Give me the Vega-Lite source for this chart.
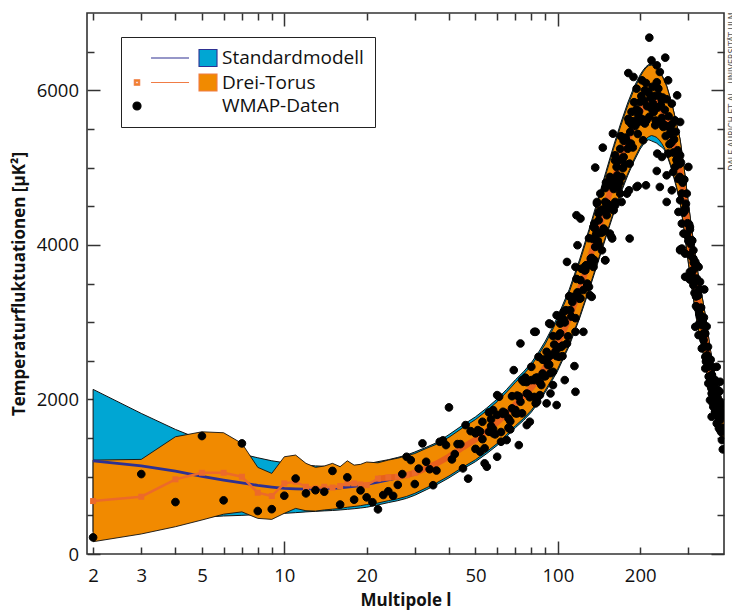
{
"$schema": "https://vega.github.io/schema/vega-lite/v6.json",
"width": 637, "height": 541,
"autosize": {"type": "none"},
"padding": {"left": 87, "top": 13, "right": 8, "bottom": 56},
"title": {"text": "DALE AURICH ET AL., UNIVERSITÄT ULM", "orient": "right", "anchor": "start", "angle": -90, "align": "right", "baseline": "middle", "offset": 0, "fontSize": 8, "font": "DejaVu Sans", "fontWeight": "normal", "color": "#555555"},
"config": {
  "font": "Open Sans",
  "view": {"stroke": "#333333", "strokeWidth": 1.6},
  "axis": {"grid": false, "domain": false, "tickColor": "#333333", "tickWidth": 1.5, "labelColor": "#111111", "titleColor": "#111111", "labelFont": "Open Sans", "titleFont": "Open Sans"}
},
"resolve": {"axis": {"x": "independent", "y": "independent"}},
"datasets": {
"bands": [
{"l":2,"smlo":289,"smhi":2130,"sm":1206,"dtlo":159,"dthi":1215,"dt":685},
{"l":3,"smlo":388,"smhi":1819,"sm":1140,"dtlo":259,"dthi":1224,"dt":741},
{"l":4,"smlo":440,"smhi":1612,"sm":1073,"dtlo":353,"dthi":1517,"dt":966},
{"l":5,"smlo":475,"smhi":1474,"sm":1005,"dtlo":440,"dthi":1581,"dt":1051},
{"l":6,"smlo":492,"smhi":1367,"sm":957,"dtlo":515,"dthi":1569,"dt":1051},
{"l":7,"smlo":500,"smhi":1293,"sm":920,"dtlo":545,"dthi":1431,"dt":1000},
{"l":8,"smlo":510,"smhi":1245,"sm":888,"dtlo":461,"dthi":1121,"dt":793},
{"l":9,"smlo":518,"smhi":1206,"sm":866,"dtlo":448,"dthi":1043,"dt":750},
{"l":10,"smlo":526,"smhi":1181,"sm":849,"dtlo":526,"dthi":1258,"dt":914},
{"l":11,"smlo":535,"smhi":1165,"sm":843,"dtlo":590,"dthi":1280,"dt":935},
{"l":12,"smlo":545,"smhi":1150,"sm":840,"dtlo":560,"dthi":1173,"dt":870},
{"l":13,"smlo":552,"smhi":1140,"sm":842,"dtlo":555,"dthi":1121,"dt":849},
{"l":14,"smlo":558,"smhi":1135,"sm":846,"dtlo":570,"dthi":1138,"dt":870},
{"l":15,"smlo":563,"smhi":1130,"sm":851,"dtlo":580,"dthi":1173,"dt":860},
{"l":16,"smlo":570,"smhi":1130,"sm":857,"dtlo":590,"dthi":1130,"dt":879},
{"l":17,"smlo":578,"smhi":1135,"sm":865,"dtlo":605,"dthi":1206,"dt":914},
{"l":18,"smlo":586,"smhi":1140,"sm":875,"dtlo":615,"dthi":1150,"dt":914},
{"l":19,"smlo":595,"smhi":1150,"sm":885,"dtlo":625,"dthi":1160,"dt":900},
{"l":20,"smlo":605,"smhi":1165,"sm":900,"dtlo":640,"dthi":1190,"dt":892},
{"l":22,"smlo":635,"smhi":1195,"sm":930,"dtlo":660,"dthi":1180,"dt":975},
{"l":24,"smlo":665,"smhi":1220,"sm":960,"dtlo":690,"dthi":1215,"dt":990},
{"l":26,"smlo":690,"smhi":1250,"sm":985,"dtlo":715,"dthi":1240,"dt":1000},
{"l":28,"smlo":720,"smhi":1280,"sm":1010,"dtlo":745,"dthi":1270,"dt":1020},
{"l":30,"smlo":760,"smhi":1320,"sm":1045,"dtlo":785,"dthi":1300,"dt":1050},
{"l":33,"smlo":830,"smhi":1380,"sm":1110,"dtlo":855,"dthi":1365,"dt":1110},
{"l":36,"smlo":895,"smhi":1440,"sm":1170,"dtlo":920,"dthi":1420,"dt":1170},
{"l":40,"smlo":985,"smhi":1545,"sm":1260,"dtlo":1010,"dthi":1510,"dt":1260},
{"l":45,"smlo":1100,"smhi":1670,"sm":1380,"dtlo":1125,"dthi":1635,"dt":1380},
{"l":50,"smlo":1195,"smhi":1775,"sm":1480,"dtlo":1220,"dthi":1740,"dt":1480},
{"l":55,"smlo":1300,"smhi":1890,"sm":1590,"dtlo":1325,"dthi":1855,"dt":1590},
{"l":60,"smlo":1405,"smhi":2005,"sm":1700,"dtlo":1430,"dthi":1970,"dt":1700},
{"l":65,"smlo":1520,"smhi":2130,"sm":1820,"dtlo":1545,"dthi":2095,"dt":1820},
{"l":70,"smlo":1635,"smhi":2255,"sm":1940,"dtlo":1660,"dthi":2220,"dt":1940},
{"l":75,"smlo":1730,"smhi":2360,"sm":2040,"dtlo":1755,"dthi":2325,"dt":2040},
{"l":80,"smlo":1835,"smhi":2475,"sm":2150,"dtlo":1860,"dthi":2440,"dt":2150},
{"l":85,"smlo":1960,"smhi":2610,"sm":2280,"dtlo":1985,"dthi":2575,"dt":2280},
{"l":90,"smlo":2095,"smhi":2755,"sm":2420,"dtlo":2120,"dthi":2720,"dt":2420},
{"l":95,"smlo":2235,"smhi":2915,"sm":2570,"dtlo":2260,"dthi":2880,"dt":2570},
{"l":100,"smlo":2375,"smhi":3075,"sm":2720,"dtlo":2400,"dthi":3040,"dt":2720},
{"l":110,"smlo":2690,"smhi":3420,"sm":3050,"dtlo":2715,"dthi":3385,"dt":3050},
{"l":120,"smlo":3045,"smhi":3805,"sm":3420,"dtlo":3070,"dthi":3770,"dt":3420},
{"l":130,"smlo":3410,"smhi":4200,"sm":3800,"dtlo":3435,"dthi":4165,"dt":3800},
{"l":140,"smlo":3765,"smhi":4585,"sm":4170,"dtlo":3790,"dthi":4550,"dt":4170},
{"l":150,"smlo":4100,"smhi":4950,"sm":4520,"dtlo":4125,"dthi":4915,"dt":4520},
{"l":160,"smlo":4405,"smhi":5285,"sm":4840,"dtlo":4430,"dthi":5250,"dt":4840},
{"l":170,"smlo":4670,"smhi":5580,"sm":5120,"dtlo":4695,"dthi":5545,"dt":5120},
{"l":180,"smlo":4895,"smhi":5835,"sm":5360,"dtlo":4920,"dthi":5800,"dt":5360},
{"l":190,"smlo":5085,"smhi":6045,"sm":5560,"dtlo":5110,"dthi":6010,"dt":5560},
{"l":200,"smlo":5240,"smhi":6200,"sm":5720,"dtlo":5265,"dthi":6175,"dt":5720},
{"l":205,"smlo":5295,"smhi":6260,"sm":5780,"dtlo":5320,"dthi":6240,"dt":5780},
{"l":210,"smlo":5345,"smhi":6305,"sm":5830,"dtlo":5370,"dthi":6290,"dt":5830},
{"l":215,"smlo":5360,"smhi":6335,"sm":5860,"dtlo":5400,"dthi":6320,"dt":5860},
{"l":220,"smlo":5345,"smhi":6335,"sm":5870,"dtlo":5415,"dthi":6325,"dt":5870},
{"l":225,"smlo":5330,"smhi":6325,"sm":5860,"dtlo":5405,"dthi":6315,"dt":5860},
{"l":230,"smlo":5315,"smhi":6300,"sm":5840,"dtlo":5390,"dthi":6290,"dt":5840},
{"l":235,"smlo":5285,"smhi":6255,"sm":5800,"dtlo":5355,"dthi":6245,"dt":5800},
{"l":240,"smlo":5265,"smhi":6200,"sm":5750,"dtlo":5310,"dthi":6190,"dt":5750},
{"l":245,"smlo":5230,"smhi":6135,"sm":5690,"dtlo":5255,"dthi":6125,"dt":5690},
{"l":250,"smlo":5170,"smhi":6060,"sm":5620,"dtlo":5190,"dthi":6050,"dt":5620},
{"l":260,"smlo":4990,"smhi":5855,"sm":5430,"dtlo":5010,"dthi":5850,"dt":5430},
{"l":270,"smlo":4770,"smhi":5615,"sm":5200,"dtlo":4790,"dthi":5610,"dt":5200},
{"l":280,"smlo":4540,"smhi":5365,"sm":4960,"dtlo":4560,"dthi":5360,"dt":4960},
{"l":290,"smlo":4170,"smhi":4975,"sm":4580,"dtlo":4190,"dthi":4970,"dt":4580},
{"l":300,"smlo":3760,"smhi":4545,"sm":4160,"dtlo":3780,"dthi":4540,"dt":4160},
{"l":310,"smlo":3405,"smhi":4160,"sm":3790,"dtlo":3425,"dthi":4155,"dt":3790},
{"l":320,"smlo":3070,"smhi":3795,"sm":3440,"dtlo":3090,"dthi":3790,"dt":3440},
{"l":330,"smlo":2805,"smhi":3500,"sm":3160,"dtlo":2825,"dthi":3495,"dt":3160},
{"l":340,"smlo":2590,"smhi":3255,"sm":2930,"dtlo":2610,"dthi":3250,"dt":2930},
{"l":350,"smlo":2355,"smhi":2990,"sm":2680,"dtlo":2375,"dthi":2985,"dt":2680},
{"l":360,"smlo":2070,"smhi":2675,"sm":2380,"dtlo":2090,"dthi":2670,"dt":2380},
{"l":370,"smlo":1855,"smhi":2430,"sm":2150,"dtlo":1875,"dthi":2425,"dt":2150},
{"l":380,"smlo":1700,"smhi":2245,"sm":1980,"dtlo":1720,"dthi":2240,"dt":1980},
{"l":390,"smlo":1570,"smhi":2095,"sm":1840,"dtlo":1590,"dthi":2090,"dt":1840},
{"l":400,"smlo":1480,"smhi":1985,"sm":1740,"dtlo":1500,"dthi":1980,"dt":1740},
{"l":405,"smlo":1465,"smhi":1960,"sm":1720,"dtlo":1485,"dthi":1955,"dt":1720}
],
"wmap": [
{"l":2,"v":215},{"l":3,"v":1034},{"l":4,"v":672},{"l":5,"v":1526},{"l":6,"v":694},{"l":7,"v":1431},{"l":8,"v":556},{"l":9,"v":580},{"l":10,"v":754},{"l":11,"v":977},{"l":12,"v":785},{"l":13,"v":825},{"l":14,"v":806},{"l":15,"v":1075},{"l":16,"v":640},{"l":17,"v":992},{"l":18,"v":703},{"l":19,"v":823},{"l":20,"v":733},{"l":21,"v":670},{"l":22,"v":578},{"l":23,"v":763},{"l":24,"v":812},{"l":25,"v":752},{"l":26,"v":894},{"l":27,"v":1034},{"l":28,"v":1258},{"l":29,"v":1215},{"l":30,"v":905},{"l":31,"v":1105},{"l":32,"v":1431},{"l":33,"v":1193},{"l":34,"v":1097},{"l":35,"v":890},{"l":36,"v":1080},{"l":37,"v":1452},{"l":38,"v":1470},{"l":39,"v":1409},{"l":40,"v":1897},{"l":41,"v":1224},{"l":42,"v":1293},{"l":43,"v":1422},{"l":44,"v":1422},{"l":45,"v":1108},{"l":46,"v":1668},{"l":47,"v":975},
{"l":50,"v":1561},{"l":52,"v":1323},{"l":53,"v":1711},{"l":54,"v":1173},{"l":55,"v":1129},{"l":56,"v":1581},{"l":57,"v":1655},{"l":58,"v":1561},{"l":60,"v":1258},{"l":60,"v":2056},{"l":61,"v":2034},{"l":62,"v":1452},{"l":63,"v":1840},{"l":65,"v":1474},{"l":66,"v":1633},{"l":67,"v":1612},{"l":68,"v":1884},{"l":69,"v":2379},{"l":70,"v":1862},{"l":71,"v":1819},{"l":72,"v":1409},{"l":75,"v":2228},{"l":77,"v":1668},{"l":77,"v":2077},{"l":79,"v":1711},{"l":80,"v":2422},{"l":82,"v":2250},{"l":83,"v":1949},{"l":86,"v":2056},{"l":88,"v":2336},{"l":89,"v":2300},{"l":91,"v":1949},{"l":92,"v":2444},{"l":94,"v":2573},{"l":96,"v":2185},{"l":99,"v":1927},{"l":101,"v":2551},{"l":104,"v":2560},{"l":106,"v":2250},{"l":115,"v":2431},{"l":116,"v":2099},
{"l":58,"v":1862},{"l":51,"v":1603},{"l":74,"v":2250},{"l":73,"v":2724},{"l":83,"v":2875},{"l":84,"v":1969},{"l":85,"v":2551},{"l":91,"v":2616},{"l":94,"v":2974},{"l":94,"v":2077},{"l":96,"v":2357},{"l":101,"v":3073},{"l":102,"v":2854},{"l":103,"v":2681},{"l":107,"v":3155},{"l":108,"v":3779},{"l":111,"v":3327},{"l":116,"v":2875},{"l":117,"v":4383},{"l":118,"v":3995},{"l":121,"v":4340},{"l":121,"v":3543},{"l":124,"v":2875},{"l":126,"v":3671},{"l":128,"v":3499},{"l":130,"v":3456},{"l":133,"v":3327},{"l":135,"v":3801},{"l":136,"v":4275},{"l":139,"v":4534},{"l":141,"v":4405},{"l":143,"v":4663},{"l":146,"v":4167},{"l":149,"v":3801},{"l":151,"v":4512},{"l":155,"v":4146},{"l":158,"v":4082},{"l":162,"v":4555},{"l":166,"v":4749},{"l":171,"v":4555},{"l":179,"v":4663},{"l":183,"v":4082},{"l":194,"v":4749},
{"l":116,"v":3714},{"l":127,"v":3737},{"l":135,"v":3714},{"l":99,"v":3090},{"l":105,"v":3133},{"l":111,"v":3155},{"l":82,"v":2875},{"l":93,"v":2983},{"l":131,"v":3349},
{"l":216,"v":6681},{"l":220,"v":6387},{"l":247,"v":6422},{"l":181,"v":6223},{"l":189,"v":6172},{"l":194,"v":6021},{"l":230,"v":6323},{"l":236,"v":6237},{"l":253,"v":6129},{"l":273,"v":5935},{"l":261,"v":5827},{"l":280,"v":5590},{"l":268,"v":5612},{"l":203,"v":6129},{"l":208,"v":5999},{"l":214,"v":5978},{"l":223,"v":5827},{"l":233,"v":6021},{"l":240,"v":5870},{"l":200,"v":5849},{"l":186,"v":5720},{"l":197,"v":5676},{"l":211,"v":5612},{"l":227,"v":5547},{"l":243,"v":5525},{"l":257,"v":5439},{"l":184,"v":5461},{"l":205,"v":5353},{"l":159,"v":5439},{"l":146,"v":5258},{"l":137,"v":5000},{"l":162,"v":5159},{"l":174,"v":5137},{"l":164,"v":5008},{"l":171,"v":4879},{"l":183,"v":5051},{"l":196,"v":4762},{"l":210,"v":4771},{"l":230,"v":4956},{"l":236,"v":4749},{"l":250,"v":4555},{"l":231,"v":5181},{"l":240,"v":5137},{"l":253,"v":5181},{"l":272,"v":5094},{"l":280,"v":5159},{"l":300,"v":5008},{"l":264,"v":4943},{"l":279,"v":4879},{"l":182,"v":4706},{"l":155,"v":4879},{"l":139,"v":4555},{"l":149,"v":4555},{"l":162,"v":4512},{"l":141,"v":4318},{"l":151,"v":4383},{"l":160,"v":4448},{"l":169,"v":4663},{"l":135,"v":4232},{"l":147,"v":4211},{"l":157,"v":4103},{"l":137,"v":3973},{"l":145,"v":3930},{"l":149,"v":3801},{"l":133,"v":3801},{"l":250,"v":4900},{"l":280,"v":4577},{"l":296,"v":4663},{"l":292,"v":4469},{"l":304,"v":4232},{"l":276,"v":4426},{"l":284,"v":4275},{"l":288,"v":4146},{"l":304,"v":4060},{"l":280,"v":3930},{"l":292,"v":3887},{"l":313,"v":3823},{"l":322,"v":3737},{"l":261,"v":4706},
{"l":304,"v":4198},{"l":280,"v":3939},{"l":309,"v":4060},{"l":313,"v":3930},{"l":318,"v":3779},{"l":327,"v":3714},{"l":296,"v":3586},{"l":304,"v":3650},{"l":331,"v":3521},{"l":343,"v":3423},{"l":320,"v":3207},{"l":329,"v":3112},{"l":336,"v":3047},{"l":346,"v":2948},{"l":318,"v":2939},{"l":327,"v":2832},{"l":341,"v":2767},{"l":336,"v":2660},{"l":346,"v":2551},{"l":350,"v":2508},{"l":355,"v":2422},{"l":346,"v":2401},{"l":381,"v":2422},{"l":365,"v":2314},{"l":376,"v":2250},{"l":355,"v":2207},{"l":365,"v":2164},{"l":392,"v":2228},{"l":365,"v":2077},{"l":381,"v":2034},{"l":360,"v":1991},{"l":370,"v":1905},{"l":392,"v":1969},{"l":376,"v":1840},{"l":398,"v":1840},{"l":365,"v":1776},{"l":392,"v":1733},{"l":381,"v":1690},{"l":392,"v":1603},{"l":398,"v":1474},{"l":401,"v":1354},
{"l":284,"v":3952},{"l":292,"v":3586},{"l":304,"v":3550},{"l":313,"v":3478},{"l":322,"v":3371},{"l":327,"v":3177},{"l":331,"v":3090},{"l":336,"v":2961},{"l":341,"v":2854},
{"l":48,"v":1590},{"l":50,"v":1360},{"l":52,"v":1584},{"l":54,"v":1368},{"l":56,"v":1832},{"l":58,"v":1616},{"l":60,"v":1800},{"l":62,"v":1578},{"l":64,"v":1826},{"l":66,"v":1754},{"l":68,"v":2042},{"l":70,"v":1820},{"l":72,"v":2040},{"l":74,"v":1820},{"l":76,"v":2282},{"l":78,"v":2066},{"l":80,"v":2250},{"l":82,"v":2032},{"l":84,"v":2284},{"l":86,"v":2218},{"l":88,"v":2514},{"l":90,"v":2300},{"l":92,"v":2540},{"l":94,"v":2340},{"l":96,"v":2820},{"l":98,"v":2620},{"l":100,"v":2820},
{"l":51,"v":1582},{"l":53,"v":1486},{"l":57,"v":1744},{"l":59,"v":1548},{"l":63,"v":1812},{"l":67,"v":1718},{"l":71,"v":2050},{"l":73,"v":1970},{"l":77,"v":2224},{"l":79,"v":2028},{"l":83,"v":2278},{"l":87,"v":2186},{"l":89,"v":2512},{"l":93,"v":2450},{"l":97,"v":2710},{"l":99,"v":2560},
{"l":102,"v":2981},{"l":104,"v":2696},{"l":106,"v":2996},{"l":108,"v":2724},{"l":110,"v":3336},{"l":112,"v":3072},{"l":114,"v":3328},{"l":116,"v":3051},{"l":118,"v":3385},{"l":120,"v":3303},{"l":122,"v":3691},{"l":124,"v":3416},{"l":126,"v":3726},{"l":128,"v":3464},{"l":130,"v":4086},{"l":132,"v":3822},{"l":134,"v":4078},{"l":136,"v":3801},{"l":138,"v":4135},{"l":140,"v":4053},{"l":142,"v":4435},{"l":144,"v":4154},{"l":146,"v":4458},{"l":148,"v":4190},{"l":150,"v":4806},{"l":152,"v":4532},{"l":154,"v":4778},{"l":156,"v":4491},{"l":158,"v":4815},{"l":160,"v":4723},{"l":162,"v":5091},{"l":164,"v":4796},{"l":166,"v":5086},{"l":168,"v":4804},{"l":170,"v":5406},{"l":172,"v":5116},{"l":174,"v":5346},{"l":176,"v":5043},{"l":178,"v":5351},{"l":180,"v":5243},{"l":182,"v":5595},{"l":184,"v":5284},{"l":186,"v":5558},{"l":188,"v":5260},{"l":190,"v":5846},{"l":192,"v":5540},{"l":194,"v":5754},{"l":196,"v":5435},{"l":198,"v":5727},{"l":200,"v":5603},
{"l":101,"v":2673},{"l":105,"v":3035},{"l":109,"v":2817},{"l":113,"v":3261},{"l":117,"v":3559},{"l":121,"v":3308},{"l":125,"v":3670},{"l":129,"v":3732},{"l":133,"v":3831},{"l":137,"v":4209},{"l":141,"v":4005},{"l":145,"v":4445},{"l":149,"v":4735},{"l":153,"v":4466},{"l":157,"v":4804},{"l":161,"v":4838},{"l":165,"v":4900},{"l":169,"v":5242},{"l":173,"v":4992},{"l":177,"v":5388},{"l":181,"v":5630},{"l":185,"v":5310},{"l":189,"v":5600},{"l":193,"v":5578},{"l":197,"v":5592},
{"l":202,"v":5924},{"l":204,"v":5624},{"l":206,"v":5862},{"l":208,"v":5570},{"l":210,"v":6094},{"l":212,"v":5794},{"l":214,"v":5974},{"l":216,"v":5658},{"l":218,"v":5902},{"l":220,"v":5762},{"l":222,"v":6046},{"l":224,"v":5718},{"l":226,"v":5928},{"l":228,"v":5608},{"l":230,"v":6104},{"l":232,"v":5776},{"l":234,"v":5928},{"l":236,"v":5586},{"l":238,"v":5806},{"l":240,"v":5642},{"l":242,"v":5906},{"l":244,"v":5558},{"l":246,"v":5748},{"l":248,"v":5408},{"l":250,"v":5884},{"l":252,"v":5534},{"l":254,"v":5664},{"l":256,"v":5302},{"l":258,"v":5504},{"l":260,"v":5322},{"l":262,"v":5564},{"l":264,"v":5194},{"l":266,"v":5364},{"l":268,"v":5006},{"l":270,"v":5464},{"l":272,"v":5104},{"l":274,"v":5224},{"l":276,"v":4852},{"l":278,"v":5044},{"l":280,"v":4852},{"l":282,"v":5064},{"l":284,"v":4664},{"l":286,"v":4804},{"l":288,"v":4416},{"l":290,"v":4844},{"l":292,"v":4448},{"l":294,"v":4532},{"l":296,"v":4124},{"l":298,"v":4280},{"l":300,"v":4052},{"l":302,"v":4266},{"l":304,"v":3868},{"l":306,"v":4010},{"l":308,"v":3624},{"l":310,"v":4054},{"l":312,"v":3672},{"l":314,"v":3770},{"l":316,"v":3376},{"l":318,"v":3546},{"l":320,"v":3332},{"l":322,"v":3564},{"l":324,"v":3184},{"l":326,"v":3344},{"l":328,"v":2976},{"l":330,"v":3424},{"l":332,"v":3066},{"l":334,"v":3188},{"l":336,"v":2818},{"l":338,"v":3012},{"l":340,"v":2822},{"l":342,"v":3060},{"l":344,"v":2686},{"l":346,"v":2852},{"l":348,"v":2490},{"l":350,"v":2944},{"l":352,"v":2572},{"l":354,"v":2680},{"l":356,"v":2296},{"l":358,"v":2476},{"l":360,"v":2272},{"l":362,"v":2514},{"l":364,"v":2144},{"l":366,"v":2314},{"l":368,"v":1956},{"l":370,"v":2414},{"l":372,"v":2068},{"l":374,"v":2202},{"l":376,"v":1844},{"l":378,"v":2050},{"l":380,"v":1872},{"l":382,"v":2132},{"l":384,"v":1780},{"l":386,"v":1968},{"l":388,"v":1628},{"l":390,"v":2104},{"l":392,"v":1772},{"l":394,"v":1920},{"l":396,"v":1576},{"l":398,"v":1796},{"l":400,"v":1632}
]
},
"layer": [
{
 "data": {"name": "bands"},
 "mark": {"type": "area", "fill": "#00a6d3", "stroke": "#111111", "strokeWidth": 1, "clip": true},
 "encoding": {
  "x": {"field": "l", "type": "quantitative", "scale": {"type": "log", "domain": [1.9, 405], "nice": false},
   "axis": {"orient": "bottom", "values": [2,3,4,5,6,7,8,9,10,20,30,40,50,60,70,80,90,100,200,300],
    "labelExpr": "indexof([2,3,5,10,20,50,100,200], datum.value) >= 0 ? format(datum.value, 'd') : ''",
    "tickSize": {"condition": {"test": "datum.value == 10 || datum.value == 100", "value": -13}, "value": -7},
    "labelPadding": {"condition": {"test": "datum.value == 10 || datum.value == 100", "value": 25}, "value": 19},
    "labelFontSize": 18.5, "labelOverlap": false, "labelBound": false, "labelFlush": false,
    "title": "Multipole l", "titleFontSize": 17, "titleFontWeight": "bold", "titlePadding": 8}},
  "y": {"field": "smlo", "type": "quantitative", "scale": {"domain": [0, 7000], "nice": false, "zero": false},
   "axis": {"orient": "left", "values": [0,500,1000,1500,2000,2500,3000,3500,4000,4500,5000,5500,6000,6500],
    "labelExpr": "datum.value % 2000 == 0 ? format(datum.value, 'd') : ''",
    "tickSize": {"condition": {"test": "datum.value % 2000 == 0", "value": -13}, "value": -7},
    "labelPadding": {"condition": {"test": "datum.value % 2000 == 0", "value": 21.5}, "value": 15.5},
    "labelFontSize": 18.5, "labelOverlap": false, "labelBound": false, "labelFlush": false,
    "title": "Temperaturfluktuationen [μK²]", "titleFontSize": 17, "titleFontWeight": "bold", "titlePadding": 8}},
  "y2": {"field": "smhi"}
 }
},
{
 "data": {"name": "bands"},
 "mark": {"type": "area", "fill": "#f18a00", "stroke": "#111111", "strokeWidth": 0.9, "clip": true},
 "encoding": {
  "x": {"field": "l", "type": "quantitative", "scale": {"type": "log", "domain": [1.9, 405], "nice": false},
   "axis": {"orient": "top", "values": [2,3,4,5,6,7,8,9,10,20,30,40,50,60,70,80,90,100,200,300], "labels": false, "title": null,
    "tickSize": {"condition": {"test": "datum.value == 10 || datum.value == 100", "value": -13}, "value": -7}}},
  "y": {"field": "dtlo", "type": "quantitative", "scale": {"domain": [0, 7000], "nice": false, "zero": false},
   "axis": {"orient": "right", "values": [0,500,1000,1500,2000,2500,3000,3500,4000,4500,5000,5500,6000,6500], "labels": false, "title": null,
    "tickSize": {"condition": {"test": "datum.value % 2000 == 0", "value": -13}, "value": -7}}},
  "y2": {"field": "dthi"}
 }
},
{
 "data": {"name": "bands"},
 "transform": [{"filter": "datum.l <= 30"}],
 "mark": {"type": "line", "stroke": "#2e3192", "strokeWidth": 2.8, "clip": true},
 "encoding": {
  "x": {"field": "l", "type": "quantitative", "scale": {"type": "log"}, "axis": null},
  "y": {"field": "sm", "type": "quantitative", "axis": null}
 }
},
{
 "data": {"name": "bands"},
 "transform": [{"filter": "datum.l <= 30"}],
 "mark": {"type": "line", "stroke": "#ec6a2a", "strokeWidth": 2.5, "clip": true},
 "encoding": {
  "x": {"field": "l", "type": "quantitative", "scale": {"type": "log"}, "axis": null},
  "y": {"field": "dt", "type": "quantitative", "axis": null}
 }
},
{
 "data": {"name": "bands"},
 "transform": [{"filter": "datum.l >= 22"}],
 "mark": {"type": "line", "stroke": "#e8601c", "strokeWidth": 6, "clip": true},
 "encoding": {
  "x": {"field": "l", "type": "quantitative", "scale": {"type": "log"}, "axis": null},
  "y": {"field": "dt", "type": "quantitative", "axis": null}
 }
},
{
 "data": {"name": "bands"},
 "transform": [{"filter": "datum.l <= 30"}],
 "mark": {"type": "point", "shape": "square", "filled": true, "size": 36, "color": "#ec6a2a", "opacity": 1, "clip": true},
 "encoding": {
  "x": {"field": "l", "type": "quantitative", "scale": {"type": "log"}, "axis": null},
  "y": {"field": "dt", "type": "quantitative", "axis": null}
 }
},
{
 "data": {"name": "wmap"},
 "mark": {"type": "point", "filled": true, "size": 290, "strokeWidth": 1, "opacity": 1, "clip": true},
 "encoding": {
  "x": {"field": "l", "type": "quantitative", "scale": {"type": "log"}, "axis": null},
  "y": {"field": "v", "type": "quantitative", "axis": null},
  "fill": {"datum": "WMAP-Daten", "type": "nominal",
   "scale": {"domain": ["Standardmodell", "Drei-Torus", "WMAP-Daten"], "range": ["#00a6d3", "#f18a00", "#000000"]},
   "legend": {"orient": "none", "legendX": 34, "legendY": 24, "title": null, "padding": 11, "strokeColor": "#222222", "symbolSize": 324, "symbolOffset": -5, "symbolStrokeWidth": 1.1, "labelFont": "Open Sans", "labelFontSize": 19, "labelColor": "#111111", "labelOffset": 75, "rowPadding": 2.5, "labelExpr": "datum.label + '         '"}},
  "stroke": {"datum": "WMAP-Daten", "type": "nominal",
   "scale": {"domain": ["Standardmodell", "Drei-Torus", "WMAP-Daten"], "range": ["#2e3192", "#f07c45", "#000000"]},
   "legend": {"orient": "none", "legendX": 34, "legendY": 24, "title": null, "padding": 11, "strokeColor": "#222222", "symbolSize": 324, "symbolOffset": -5, "symbolStrokeWidth": 1.1, "labelFont": "Open Sans", "labelFontSize": 19, "labelColor": "#111111", "labelOffset": 75, "rowPadding": 2.5, "labelExpr": "datum.label + '         '"}},
  "shape": {"datum": "WMAP-Daten", "type": "nominal",
   "scale": {"domain": ["Standardmodell", "Drei-Torus", "WMAP-Daten"], "range": ["M1.56,0L5.78,0M6.89,-0.95L8.89,-0.95L8.89,0.95L6.89,0.95Z", "M-0.3,-0.3L0.3,-0.3L0.3,0.3L-0.3,0.3ZM-0.14,-0.14L-0.14,0.14L0.14,0.14L0.14,-0.14ZM1.56,0L5.78,0M6.89,-0.95L8.89,-0.95L8.89,0.95L6.89,0.95Z", "M-0.45,0A0.45,0.45 0 1,0 0.45,0A0.45,0.45 0 1,0 -0.45,0Z"]},
   "legend": {"orient": "none", "legendX": 34, "legendY": 24, "title": null, "padding": 11, "strokeColor": "#222222", "symbolSize": 324, "symbolOffset": -5, "symbolStrokeWidth": 1.1, "labelFont": "Open Sans", "labelFontSize": 19, "labelColor": "#111111", "labelOffset": 75, "rowPadding": 2.5, "labelExpr": "datum.label + '         '"}}
 }
}
]
}
